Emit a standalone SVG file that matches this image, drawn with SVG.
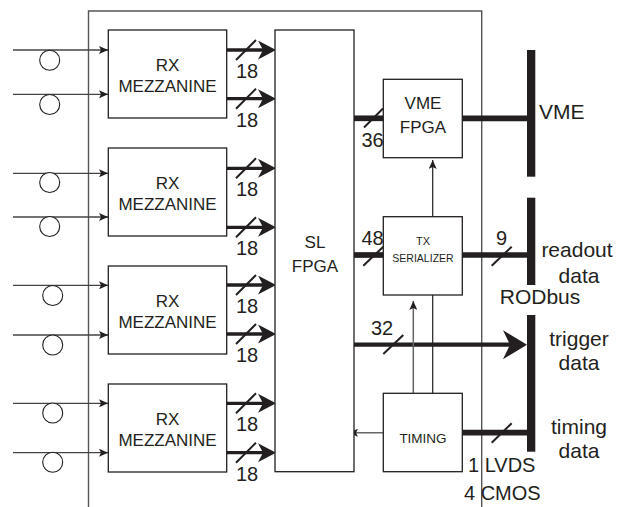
<svg xmlns="http://www.w3.org/2000/svg" width="620" height="507" viewBox="0 0 620 507">
<style>
text{font-family:"Liberation Sans",Arial,sans-serif;fill:#231f20}
.box{fill:#fff;stroke:#231f20;stroke-width:1.3}
.gbox{fill:none;stroke:#555;stroke-width:1.4}
.in{stroke:#444;stroke-width:1.3;fill:none}
.circ{fill:#fff;stroke:#231f20;stroke-width:1.1}
.out{stroke:#231f20;stroke-width:3.3;fill:none}
.thick{stroke:#231f20;stroke-width:5.7;fill:none}
.slash{stroke:#231f20;stroke-width:2;fill:none}
.thin{stroke:#231f20;stroke-width:1.2;fill:none}
.gthin{stroke:#666;stroke-width:1.5;fill:none}
.bus{fill:#231f20}
.lbl{font-size:17px;text-anchor:middle}
.num{font-size:20px}
.side{font-size:21px}
.sidec{font-size:21px;text-anchor:middle}
</style>
<defs>
<marker id="aS" markerUnits="userSpaceOnUse" markerWidth="9" markerHeight="8" viewBox="0 0 9 8" refX="9" refY="4" orient="auto"><path d="M0,0 L9,4 L0,8 L2,4 Z" fill="#231f20"/></marker>
<marker id="aL" markerUnits="userSpaceOnUse" markerWidth="18" markerHeight="19" viewBox="0 0 18 19" refX="8" refY="9.5" orient="auto"><path d="M0,0 L18,9.5 L0,19 L5,9.5 Z" fill="#231f20"/></marker>
<marker id="aT" markerUnits="userSpaceOnUse" markerWidth="24" markerHeight="29" viewBox="0 0 24 29" refX="12" refY="14.5" orient="auto"><path d="M0,0 L24,14.5 L0,29 L7,14.5 Z" fill="#231f20"/></marker>
</defs>

<g id="frame"><path class="gbox" d="M88.5,507 V11 H481.7 V507"/></g>

<g id="connectors">
  <path class="in" d="M13,50 H108" marker-end="url(#aS)"/>
  <path class="in" d="M13,94.3 H108" marker-end="url(#aS)"/>
  <path class="in" d="M13,173.3 H108" marker-end="url(#aS)"/>
  <path class="in" d="M13,217 H108" marker-end="url(#aS)"/>
  <path class="in" d="M13,285.3 H108" marker-end="url(#aS)"/>
  <path class="in" d="M13,335 H108" marker-end="url(#aS)"/>
  <path class="in" d="M13,403.3 H108" marker-end="url(#aS)"/>
  <path class="in" d="M13,452.7 H108" marker-end="url(#aS)"/>
  <circle class="circ" cx="49.7" cy="60.3" r="10"/>
  <circle class="circ" cx="49.7" cy="104.5" r="10"/>
  <circle class="circ" cx="49.7" cy="182.5" r="10"/>
  <circle class="circ" cx="49.7" cy="226.5" r="10"/>
  <circle class="circ" cx="52.7" cy="295.5" r="10"/>
  <circle class="circ" cx="52.7" cy="345" r="10"/>
  <circle class="circ" cx="52.7" cy="413" r="10"/>
  <circle class="circ" cx="52.7" cy="462.2" r="10"/>
  <path class="out" d="M227,50 H266" marker-end="url(#aL)"/>
  <path class="out" d="M227,98.7 H266" marker-end="url(#aL)"/>
  <path class="out" d="M227,168.3 H266" marker-end="url(#aL)"/>
  <path class="out" d="M227,227.3 H266" marker-end="url(#aL)"/>
  <path class="out" d="M227,285 H266" marker-end="url(#aL)"/>
  <path class="out" d="M227,334 H266" marker-end="url(#aL)"/>
  <path class="out" d="M227,403.3 H266" marker-end="url(#aL)"/>
  <path class="out" d="M227,452.7 H266" marker-end="url(#aL)"/>
  <path class="slash" d="M236,60 L256,40 M236,108.7 L256,88.7 M236,178.3 L256,158.3 M236,237.3 L256,217.3 M236,295 L256,275 M236,344 L256,324 M236,413.3 L256,393.3 M236,462.7 L256,442.7"/>
  <text class="num" x="236" y="78">18</text>
  <text class="num" x="236" y="127">18</text>
  <text class="num" x="236" y="196">18</text>
  <text class="num" x="236" y="255">18</text>
  <text class="num" x="236" y="313">18</text>
  <text class="num" x="236" y="362">18</text>
  <text class="num" x="236" y="431">18</text>
  <text class="num" x="236" y="481">18</text>
  <path class="thick" d="M354,118.3 H383.5"/>
  <path class="slash" d="M364,127.5 L383,108.5"/>
  <text class="num" x="361.5" y="147">36</text>
  <path class="thick" d="M462,118.3 H527"/>
  <path class="thick" d="M354,255 H383.5"/>
  <path class="slash" d="M363.3,265.7 L383.3,246.7"/>
  <text class="num" x="361.5" y="245">48</text>
  <path class="thick" d="M462,255 H527"/>
  <path class="slash" d="M491.7,265.7 L511.7,246.7"/>
  <text class="num" x="496" y="245">9</text>
  <path class="thin" d="M432.7,217 V160" marker-end="url(#aS)"/>
  <path class="thick" style="stroke-width:4.2" d="M354,344.7 H515" marker-end="url(#aT)"/>
  <path class="slash" d="M383.3,354 L403.3,335"/>
  <text class="num" x="371" y="335">32</text>
  <path class="gthin" d="M413.3,393.3 V301" marker-end="url(#aS)"/>
  <path class="thin" d="M432.7,295 V393.3"/>
  <path class="gthin" d="M383,432.7 H349" marker-end="url(#aS)"/>
  <path class="thick" d="M462,432.7 H527"/>
  <path class="slash" d="M491.7,442.7 L511.7,423.3"/>
</g>

<g id="rx1"><rect class="box" x="108.3" y="30" width="118.4" height="88"/><text class="lbl" x="167.5" y="71">RX</text><text class="lbl" x="167.5" y="91.7">MEZZANINE</text></g>
<g id="rx2"><rect class="box" x="108.3" y="148" width="118.4" height="88"/><text class="lbl" x="167.5" y="189">RX</text><text class="lbl" x="167.5" y="209.7">MEZZANINE</text></g>
<g id="rx3"><rect class="box" x="108.3" y="266" width="118.4" height="88"/><text class="lbl" x="167.5" y="307">RX</text><text class="lbl" x="167.5" y="327.7">MEZZANINE</text></g>
<g id="rx4"><rect class="box" x="108.3" y="384" width="118.4" height="88"/><text class="lbl" x="167.5" y="425">RX</text><text class="lbl" x="167.5" y="445.7">MEZZANINE</text></g>

<g id="slfpga"><rect class="box" x="275" y="30" width="79" height="441.7"/><text class="lbl" x="315" y="248">SL</text><text class="lbl" x="315" y="271.5">FPGA</text></g>

<g id="vmefpga"><rect class="box" x="383.3" y="79.3" width="79" height="78.4"/><text class="lbl" x="423" y="109">VME</text><text class="lbl" x="423" y="133.3">FPGA</text></g>

<g id="txser"><rect class="box" x="383.3" y="216.7" width="79" height="78.3"/><text class="lbl" style="font-size:11px" x="423" y="245">TX</text><text class="lbl" style="font-size:10.5px" x="423" y="261.7">SERIALIZER</text></g>

<g id="timing"><rect class="box" x="383.3" y="393.3" width="79" height="78.4"/><text class="lbl" style="font-size:13.5px" x="423" y="442.7">TIMING</text></g>

<g id="vmebus"><rect class="bus" x="527" y="50" width="8.3" height="126.7"/><text class="side" x="539" y="119">VME</text></g>

<g id="rodbus"><rect class="bus" x="527" y="197.7" width="8.3" height="87.3"/><text class="sidec" x="577" y="257">readout</text><text class="sidec" x="579" y="283">data</text><text class="sidec" x="540" y="304.3">RODbus</text></g>

<g id="trigbus"><rect class="bus" x="527" y="315" width="8.3" height="136.7"/><text class="sidec" x="579" y="346">trigger</text><text class="sidec" x="579" y="370">data</text><text class="sidec" x="579" y="434">timing</text><text class="sidec" x="579" y="458.3">data</text></g>

<g id="iolabels"><text class="num" x="468" y="471.7">1 LVDS</text><text class="num" x="464" y="500">4 CMOS</text></g>
</svg>
